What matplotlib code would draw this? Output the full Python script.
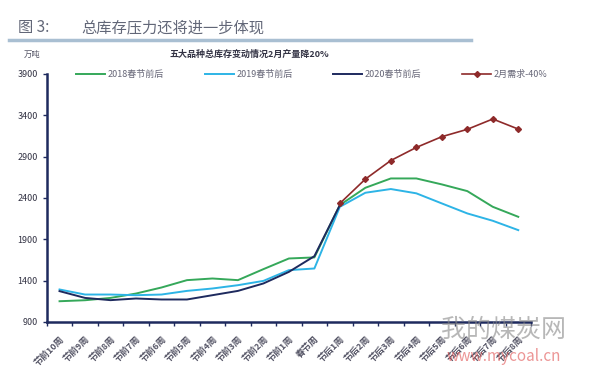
import matplotlib
matplotlib.use("Agg")
import matplotlib.pyplot as plt

plt.rcParams['font.family'] = ['Noto Sans CJK SC', 'DejaVu Sans']

categories = ['节前10周', '节前9周', '节前8周', '节前7周', '节前6周', '节前5周', '节前4周',
              '节前3周', '节前2周', '节前1周', '春节周', '节后1周', '节后2周', '节后3周',
              '节后4周', '节后5周', '节后6周', '节后7周', '节后8周']
s2018 = [1150, 1162, 1190, 1243, 1316, 1405, 1425, 1405, 1538, 1667, 1680,
         2313, 2522, 2635, 2635, 2563, 2482, 2292, 2171]
s2019 = [1292, 1231, 1231, 1223, 1231, 1275, 1304, 1344, 1396, 1526, 1546,
         2292, 2462, 2507, 2455, 2333, 2212, 2123, 2010]
s2020 = [1272, 1190, 1163, 1183, 1171, 1171, 1223, 1275, 1365, 1505, 1695, 2313]
sdemand = [2333, 2627, 2852, 3010, 3140, 3229, 3354, 3232]
demand_start = 11
yticks = [900, 1400, 1900, 2400, 2900, 3400, 3900]

names = ['2018春节前后', '2019春节前后', '2020春节前后', '2月需求-40%']
colors = ['#35a85a', '#2db4e6', '#1e2a5e', '#8e2a2a']

fig = plt.figure(figsize=(6, 3.73), dpi=100)
ax = fig.add_axes([0.078, 0.137, 0.807, 0.665])

x = list(range(len(categories)))
ax.plot(x, s2018, color=colors[0], lw=1.4, label=names[0])
ax.plot(x, s2019, color=colors[1], lw=1.4, label=names[1])
ax.plot(x[:len(s2020)], s2020, color=colors[2], lw=1.4, label=names[2])
xd = list(range(demand_start, demand_start + len(sdemand)))
ax.plot(xd, sdemand, color=colors[3], lw=1.2, marker='D', ms=3, label=names[3])

ax.set_xlim(-0.5, len(categories) - 0.5)
ax.set_ylim(900, 3900)
ax.set_yticks(yticks)
ax.set_yticklabels([str(v) for v in yticks], fontsize=6.5, color='#333344')
ax.set_xticks(x)
ax.set_xticklabels(categories, rotation=45, ha='right', rotation_mode='anchor',
                   fontsize=6.5, fontweight='bold', color='#555566')
ax.set_xticks([i - 0.5 for i in range(len(categories) + 1)], minor=True)
ax.tick_params(axis='x', which='major', length=0, pad=9)
ax.tick_params(axis='x', which='minor', length=3, color='#1e2a5e', width=1)
ax.tick_params(axis='y', length=3, color='#1e2a5e', width=1)
for side in ['top', 'right']:
    ax.spines[side].set_visible(False)
for side in ['left', 'bottom']:
    ax.spines[side].set_color('#1e2a5e')
    ax.spines[side].set_linewidth(1.8)

leg = fig.legend(loc='center', bbox_to_anchor=(0.52, 0.80), ncol=4, frameon=False,
                 fontsize=6.5, handlelength=3.2, columnspacing=4.5, handletextpad=0.3)
for t in leg.get_texts():
    t.set_color('#666677')

fig.text(0.03, 0.925, '图 3:', fontsize=11, color='#626778', va='center')
fig.text(0.135, 0.925, '总库存压力还将进一步体现', fontsize=11, color='#626778', va='center')
fig.add_artist(plt.Line2D([0.015, 0.785], [0.893, 0.893], color='#a9bfd2', lw=2.5,
                          transform=fig.transFigure))
fig.text(0.04, 0.855, '万吨', fontsize=6, color='#555566', va='center')
fig.text(0.415, 0.855, '五大品种总库存变动情况2月产量降20%', fontsize=6.5,
         fontweight='bold', color='#333344', va='center', ha='center')

# watermark
fig.text(0.84, 0.115, '我的煤炭网', fontsize=18, color='#888888', alpha=0.6,
         ha='center', va='center')
fig.text(0.84, 0.045, 'www.mycoal.cn', fontsize=11, color='#e05050', alpha=0.6,
         ha='center', va='center')

fig.savefig('out.png', dpi=100)
